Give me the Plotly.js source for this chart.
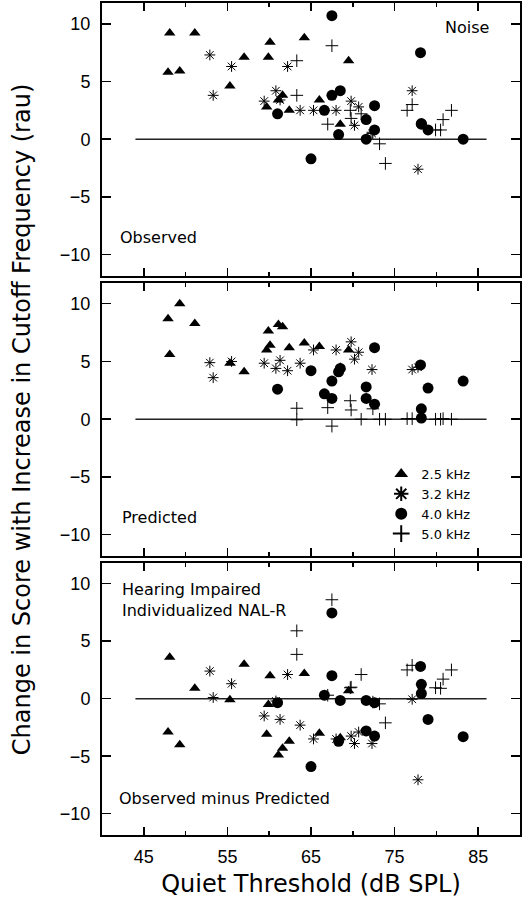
<!DOCTYPE html>
<html>
<head>
<meta charset="utf-8">
<script src="https://cdn.plot.ly/plotly-3.0.1.min.js"></script>
<style>html,body{margin:0;padding:0;background:#fff;}#chart{width:525px;height:900px;}</style>
</head>
<body>
<div id="chart"></div>
<script>
// ---- Data ----
// Quiet thresholds (dB SPL) per frequency
const thr25 = [47.9, 48.1, 49.3, 51.1, 55.3, 57.0, 59.7, 59.9, 60.1, 61.1, 61.6, 62.4, 64.2, 66.0, 68.5, 69.5];
const thr32 = [52.9, 53.3, 55.5, 59.4, 60.8, 61.3, 62.2, 63.7, 65.3, 68.0, 69.8, 70.2, 70.7, 72.3, 77.1, 77.8];
const thr40 = [61.0, 65.0, 66.6, 67.5, 67.5, 68.3, 68.5, 71.6, 71.6, 72.6, 72.6, 78.1, 78.2, 78.2, 79.0, 83.2];
const thr50 = [63.3, 63.3, 67.0, 67.5, 69.7, 69.8, 71.0, 72.4, 73.2, 73.9, 76.5, 77.1, 79.9, 80.5, 80.8, 81.8];

// Observed change (rau)
const obs25 = [5.8, 9.2, 5.9, 9.2, 4.6, 7.1, 2.8, 7.1, 8.4, 3.4, 3.8, 2.5, 8.8, 3.4, 1.3, 6.8];
const obs32 = [7.3, 3.8, 6.3, 3.3, 4.2, 3.4, 6.3, 2.5, 2.5, 2.5, 3.3, 1.2, 2.8, 0.5, 4.2, -2.6];
const obs40 = [2.2, -1.7, 2.5, 10.7, 3.8, 0.4, 4.2, 1.7, 0.0, 2.9, 0.8, 7.5, 1.3, 1.35, 0.8, 0.0];
const obs50 = [6.8, 3.8, 1.3, 8.1, 2.5, 1.8, 2.2, 0.6, -0.4, -2.1, 2.5, 3.0, 0.8, 0.8, 1.7, 2.5];

// Predicted change (rau)
const pred25 = [8.7, 5.6, 10.0, 8.3, 4.85, 4.1, 6.0, 7.65, 6.4, 8.2, 8.0, 6.2, 6.6, 6.3, 4.5, 6.0];
const pred32 = [4.9, 3.6, 5.0, 4.85, 4.4, 5.1, 4.2, 4.85, 6.0, 6.0, 6.7, 5.2, 5.8, 4.3, 4.3, 4.5];
const pred40 = [2.6, 4.2, 2.2, 3.3, 1.8, 4.1, 4.4, 1.8, 2.8, 6.2, 1.3, 4.7, 0.1, 0.9, 2.7, 3.3];
const pred50 = [0.95, -0.05, 1.0, -0.6, 1.6, 0.8, 0.0, 0.9, 0.0, 0.0, 0.05, 0.05, 0.0, 0.0, 0.05, 0.0];

// Observed minus predicted (rau)
const diff25 = [-2.9, 3.6, -4.0, 0.9, -0.1, 3.0, -3.1, -0.5, 2.0, -4.9, -4.3, -3.7, 2.2, -3.0, -3.4, 0.7];
const diff32 = [2.4, 0.1, 1.3, -1.5, -0.2, -1.8, 2.1, -2.3, -3.5, -3.5, -3.25, -3.9, -2.9, -3.9, -0.05, -7.05];
const diff40 = [-0.35, -5.9, 0.3, 7.45, 2.0, -3.7, -0.15, -0.15, -2.8, -3.25, -0.35, 2.8, 1.25, 0.45, -1.8, -3.3];
const diff50 = [5.9, 3.85, 0.3, 8.6, 0.95, 1.0, 2.1, -0.3, -0.45, -2.1, 2.5, 2.9, 0.95, 0.9, 1.7, 2.5];

const freqNames = ["2.5 kHz", "3.2 kHz", "4.0 kHz", "5.0 kHz"];
const refLineX = [44, 86];
const refLineY = [0, 0];
const xTickVals = [45, 55, 65, 75, 85];
const xMinorVals = [50, 60, 70, 80];
const yTickVals = [-10, -5, 0, 5, 10];
const panelLabels = ["Observed", "Predicted", "Observed minus Predicted"];

// ---- Styles ----
const markerStyles = [
  {symbol: "triangle-up", size: 10, color: "#000", line: {width: 0}},
  {symbol: "asterisk-open", size: 9, color: "#000", line: {width: 1, color: "#000"}},
  {symbol: "circle", size: 11, color: "#000", line: {width: 0}},
  {symbol: "cross-thin-open", size: 9, color: "#000", line: {width: 1, color: "#000"}}
];

const thr = [thr25, thr32, thr40, thr50];
const panels = [
  {ys: [obs25, obs32, obs40, obs50], yax: "y"},
  {ys: [pred25, pred32, pred40, pred50], yax: "y2"},
  {ys: [diff25, diff32, diff40, diff50], yax: "y3"}
];
const xaxFor = {y: "x", y2: "x2", y3: "x3"};

const traces = [];
panels.forEach((p, pi) => {
  traces.push({
    x: refLineX, y: refLineY, xaxis: xaxFor[p.yax], yaxis: p.yax,
    mode: "lines", line: {color: "#222", width: 1.5},
    showlegend: false, hoverinfo: "skip"
  });
  for (let f = 0; f < 4; f++) {
    traces.push({
      x: thr[f], y: p.ys[f], xaxis: xaxFor[p.yax], yaxis: p.yax,
      type: "scatter", mode: "markers", name: freqNames[f],
      marker: markerStyles[f], showlegend: pi === 1, cliponaxis: false
    });
  }
});

const tickFont = {family: "Liberation Sans, Arial, sans-serif", size: 18, color: "#000"};
const yRange = [-11.85, 11.8];
const xRange = [40, 90];

function xAxis(showLabels, anchor) {
  const a = {
    range: xRange, anchor: anchor, showline: true, linewidth: 2, linecolor: "#000",
    mirror: "allticks", ticks: "inside", ticklen: 8, tickwidth: 1.5, tickcolor: "#000",
    tickvals: xTickVals, showticklabels: showLabels, tickfont: tickFont,
    showgrid: false, zeroline: false, ticklabelstandoff: 4,
    minor: {tickvals: xMinorVals, ticks: "inside", ticklen: 4, tickwidth: 1.5, tickcolor: "#000", showgrid: false}
  };
  if (anchor !== "y3") a.matches = "x3";
  return a;
}
function yAxis(domain, anchor) {
  return {
    range: yRange, domain: domain, anchor: anchor, showline: true, linewidth: 2, linecolor: "#000",
    mirror: "allticks", ticks: "inside", ticklen: 9, tickwidth: 1.5, tickcolor: "#000",
    tickvals: yTickVals, tickfont: tickFont, showgrid: false, zeroline: false,
    ticklabelstandoff: 6
  };
}

const annFont = {family: "DejaVu Sans, sans-serif", size: 16, color: "#000"};
const layout = {
  width: 525, height: 900,
  margin: {l: 102, r: 5, t: 3, b: 65},
  paper_bgcolor: "#fff", plot_bgcolor: "#fff",
  font: {family: "DejaVu Sans, sans-serif", color: "#000"},
  xaxis: xAxis(false, "y"),
  xaxis2: xAxis(false, "y2"),
  xaxis3: Object.assign(xAxis(true, "y3"), {
    title: {text: "Quiet Threshold (dB SPL)", font: {family: "DejaVu Sans, sans-serif", size: 24, color: "#000"}, standoff: 10}
  }),
  yaxis: yAxis([0.6719, 1.0], "x"),
  yaxis2: Object.assign(yAxis([0.3353, 0.6635], "x2"), {
    title: {text: "Change in Score with Increase in Cutoff Frequency (rau)", font: {family: "DejaVu Sans, sans-serif", size: 24, color: "#000"}, standoff: 22}
  }),
  yaxis3: yAxis([0, 0.327], "x3"),
  showlegend: true,
  legend: {
    x: 0.668, y: 0.452, xanchor: "left", yanchor: "top",
    bgcolor: "rgba(0,0,0,0)", borderwidth: 0,
    font: {family: "DejaVu Sans, sans-serif", size: 13, color: "#000"},
    tracegroupgap: 0, itemsizing: "constant"
  },
  annotations: [
    {text: "Noise", xref: "x", yref: "y", x: 86.5, y: 9.7, xanchor: "right", yanchor: "middle", showarrow: false, font: annFont},
    {text: panelLabels[0], xref: "x", yref: "y", x: 41.9, y: -8.55, xanchor: "left", yanchor: "middle", showarrow: false, font: annFont},
    {text: panelLabels[1], xref: "x2", yref: "y2", x: 42.1, y: -8.55, xanchor: "left", yanchor: "middle", showarrow: false, font: annFont},
    {text: panelLabels[2], xref: "x3", yref: "y3", x: 41.8, y: -8.7, xanchor: "left", yanchor: "middle", showarrow: false, font: annFont},
    {text: "Hearing Impaired<br>Individualized NAL-R", xref: "x3", yref: "y3", x: 42.1, y: 8.6, xanchor: "left", yanchor: "middle", align: "left", showarrow: false, font: annFont}
  ]
};

Plotly.newPlot("chart", traces, layout, {staticPlot: true, displayModeBar: false});
</script>
</body>
</html>
